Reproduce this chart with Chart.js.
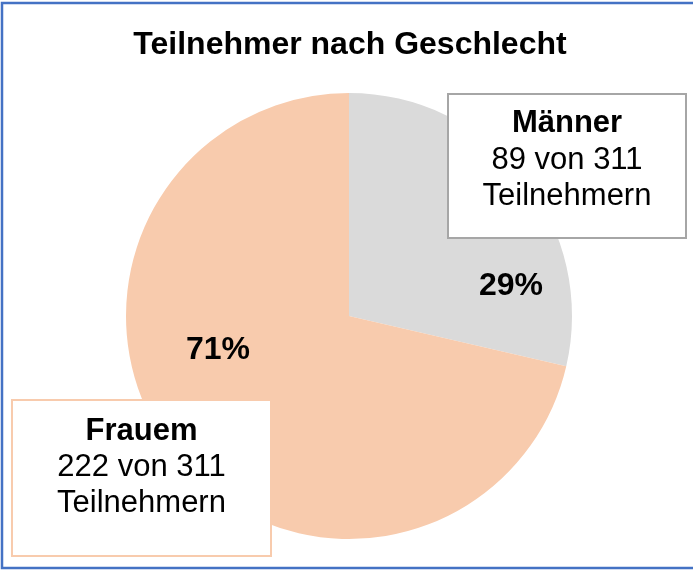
<!DOCTYPE html>
<html>
<head>
<meta charset="utf-8">
<script src="https://cdn.jsdelivr.net/npm/chart.js@4"></script>
<style>
  html, body { margin: 0; padding: 0; background: #fff; }
  #wrap { width: 693px; height: 571px; }
</style>
</head>
<body>
<div id="wrap"><canvas id="genderPie" width="693" height="571"></canvas></div>
<script>
var labels = ['Männer', 'Frauem'];
var counts = [89, 222];
var colors = ['#dadada', '#f8cbad'];
var boxBorders = ['#a6a6a6', '#f8cbad'];
var chartTitle = 'Teilnehmer nach Geschlecht';

var FONT = '"Liberation Sans", Arial, sans-serif';

// callout boxes and percent labels, placed like the original
var callouts = [
    { x: 448, y: 94, w: 238, h: 144, lines: [123, 160, 196], pct: [511, 286] },
    { x: 12, y: 400, w: 259, h: 156, lines: [431, 467, 503], pct: [218, 350] }
];

var decorations = {
    id: 'decorations',
    afterDraw: function (chart) {
        var ctx = chart.ctx;
        var total = counts.reduce(function (a, b) { return a + b; }, 0);
        ctx.save();

        // title
        ctx.fillStyle = '#000';
        ctx.textAlign = 'center';
        ctx.textBaseline = 'middle';
        ctx.font = 'bold 32px ' + FONT;
        ctx.fillText(chartTitle, 350, 45);

        callouts.forEach(function (c, i) {
            // percentage inside the slice
            ctx.font = 'bold 32px ' + FONT;
            ctx.fillStyle = '#000';
            ctx.fillText(Math.round(counts[i] / total * 100) + '%', c.pct[0], c.pct[1]);

            // box
            ctx.fillStyle = '#fff';
            ctx.fillRect(c.x, c.y, c.w, c.h);
            ctx.strokeStyle = boxBorders[i];
            ctx.lineWidth = 2;
            ctx.strokeRect(c.x, c.y, c.w, c.h);

            var cx = c.x + c.w / 2;
            ctx.fillStyle = '#000';
            ctx.font = 'bold 31px ' + FONT;
            ctx.fillText(labels[i], cx, c.lines[0]);
            ctx.font = '31px ' + FONT;
            ctx.fillText(counts[i] + ' von ' + total, cx, c.lines[1]);
            ctx.fillText('Teilnehmern', cx, c.lines[2]);
        });

        // outer frame (right edge runs off the picture)
        ctx.strokeStyle = '#4472c4';
        ctx.lineWidth = 2.5;
        ctx.strokeRect(2, 3, 710, 565);
        ctx.restore();
    }
};

var ctx = document.getElementById('genderPie').getContext('2d');
var pie = new Chart(ctx, {
    type: 'pie',
    data: {
        labels: labels,
        datasets: [{
            data: counts,
            backgroundColor: colors,
            borderWidth: 0,
            hoverOffset: 0
        }]
    },
    options: {
        responsive: false,
        animation: false,
        layout: {
            padding: { left: 126, right: 121, top: 93, bottom: 32 }
        },
        plugins: {
            legend: { display: false },
            title: { display: false },
            tooltip: { enabled: false }
        }
    },
    plugins: [decorations]
});
</script>
</body>
</html>
